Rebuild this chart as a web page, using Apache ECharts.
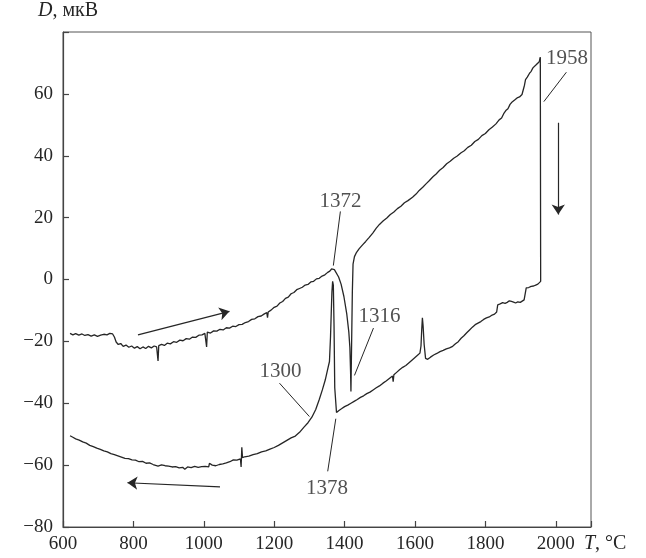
<!DOCTYPE html>
<html>
<head>
<meta charset="utf-8">
<title>ДТА</title>
<script src="https://cdn.jsdelivr.net/npm/echarts@6/dist/echarts.min.js"></script>
<style>
	html, body { margin: 0; padding: 0; background: #fff; }
	#dta { width: 646px; height: 558px; }
</style>
</head>
<body>
<div id="dta"></div>
<script>
/**********************************************/
/* 数据部分 */
/**********************************************/
// 刻度
let X_TICKS = [600, 800, 1000, 1200, 1400, 1600, 1800, 2000];
let Y_TICKS = [-80, -60, -40, -20, 0, 20, 40, 60];

// 加热曲线 [T, D]
let HEATING = [
	[620,-17.4],[628,-17.9],[636,-17.5],[645,-18.0],[654,-17.6],[662,-18.1],[671,-17.8],[680,-18.3],
	[689,-17.9],[698,-18.4],[707,-18.0],[716,-17.7],[725,-17.9],[733,-17.4],[741,-17.6],[746,-18.6],
	[751,-20.2],[757,-21.0],[764,-20.7],[771,-21.6],[779,-21.2],[787,-21.9],[795,-21.5],[803,-22.2],
	[811,-21.7],[819,-22.4],[827,-21.8],[835,-22.3],[843,-21.6],[851,-22.1],[859,-21.5],[866,-21.8],
	[868,-21.2],[870,-26.3],[872,-21.4],[880,-21.0],[888,-21.3],[896,-20.6],[905,-20.8],[914,-20.1],
	[923,-20.3],[932,-19.6],[941,-19.8],[950,-19.1],[959,-19.3],[968,-18.6],[977,-18.7],[986,-18.0],
	[995,-17.9],[1003,-17.4],[1006,-17.1],[1008,-21.8],[1010,-17.0],[1019,-17.3],[1028,-16.6],[1037,-16.7],
	[1046,-16.1],[1055,-16.3],[1064,-15.6],[1073,-15.7],[1082,-15.1],[1091,-15.2],[1100,-14.6],[1109,-14.5],
	[1118,-13.9],[1127,-13.6],[1136,-12.9],[1145,-12.7],[1154,-12.0],[1163,-11.8],[1172,-11.1],[1179,-10.7],
	[1181,-12.3],[1183,-10.5],[1191,-9.9],[1200,-9.0],[1208,-8.6],[1216,-7.6],[1224,-7.1],[1232,-6.1],
	[1240,-5.7],[1248,-4.6],[1256,-4.2],[1264,-3.3],[1272,-2.9],[1280,-2.5],[1288,-1.8],[1296,-1.6],
	[1304,-0.8],[1312,-0.6],[1320,0.2],[1328,0.4],[1336,1.1],[1344,1.5],[1352,2.3],[1358,2.7],
	[1363,3.4],[1367,3.7],[1371,3.2],[1376,2.6],[1383,0.8],[1390,-1.5],[1398,-5.5],[1406,-11.0],
	[1412,-17.0],[1415,-22.0],[1417,-30.0],[1418,-36.2],[1420,-20.0],[1422,-4.0],[1424,5.0],[1428,7.4],
	[1434,8.8],[1441,9.9],[1451,11.2],[1460,12.3],[1470,13.6],[1480,15.0],[1490,16.6],[1499,17.8],
	[1510,19.0],[1520,19.9],[1530,21.0],[1540,21.8],[1550,22.9],[1560,23.7],[1570,24.8],[1580,25.5],
	[1593,26.6],[1603,27.6],[1612,28.8],[1622,29.8],[1632,31.0],[1641,32.0],[1651,33.2],[1660,34.1],
	[1670,35.3],[1680,36.2],[1690,37.4],[1700,38.2],[1710,39.2],[1720,39.9],[1730,40.9],[1740,41.6],
	[1750,42.7],[1760,43.4],[1770,44.6],[1780,45.3],[1790,46.5],[1800,47.2],[1810,48.4],[1820,49.3],
	[1830,50.3],[1839,51.6],[1846,52.2],[1852,53.6],[1858,54.6],[1864,55.2],[1870,56.6],[1876,57.4],
	[1883,58.0],[1890,58.7],[1897,59.0],[1904,59.8],[1909,60.4],[1911,62.8],[1914,64.6],[1919,65.4],
	[1925,66.6],[1930,67.3],[1935,68.4],[1940,68.9],[1945,69.5],[1950,69.9],[1953,70.4],[1956,71.8]
];

// 冷却曲线 [T, D]
let COOLING = [
	[1957,-0.6],[1954,-1.0],[1949,-1.5],[1943,-1.8],[1937,-2.1],[1930,-2.2],[1923,-2.6],[1916,-2.7],
	[1912,-3.2],[1910,-6.6],[1905,-7.0],[1899,-7.4],[1892,-7.2],[1886,-7.6],[1880,-7.3],[1874,-7.1],
	[1868,-6.9],[1862,-7.4],[1856,-7.7],[1849,-7.5],[1842,-7.9],[1835,-8.2],[1832,-10.5],[1826,-11.2],
	[1819,-11.5],[1811,-12.1],[1803,-12.4],[1795,-12.9],[1787,-13.6],[1779,-14.1],[1771,-14.6],[1763,-15.4],
	[1755,-16.3],[1747,-17.2],[1739,-18.2],[1731,-19.0],[1723,-20.1],[1715,-20.8],[1707,-21.6],[1698,-22.1],
	[1689,-22.4],[1680,-22.9],[1671,-23.3],[1662,-23.9],[1653,-24.4],[1644,-25.1],[1636,-25.8],[1630,-25.5],
	[1626,-21.0],[1623,-15.0],[1621,-12.4],[1619,-16.5],[1617,-21.5],[1614,-23.8],[1608,-24.4],[1600,-25.2],
	[1592,-26.0],[1583,-26.9],[1574,-27.8],[1565,-28.4],[1556,-29.2],[1547,-30.1],[1540,-30.8],[1538,-33.0],
	[1536,-31.2],[1527,-32.0],[1518,-32.8],[1509,-33.5],[1499,-34.4],[1490,-35.0],[1481,-35.7],[1472,-36.4],
	[1463,-36.9],[1454,-37.6],[1445,-38.1],[1436,-38.8],[1427,-39.4],[1418,-40.0],[1409,-40.6],[1400,-41.1],
	[1391,-41.8],[1383,-42.4],[1377,-43.0],[1374,-42.6],[1372,-35.0],[1370,-15.0],[1368,-1.8],[1366,-0.6],
	[1364,-4.0],[1362,-11.0],[1360,-18.5],[1357,-26.5],[1352,-29.0],[1345,-32.5],[1337,-35.6],[1328,-38.8],
	[1318,-42.0],[1307,-44.5],[1296,-46.3],[1284,-47.8],[1272,-49.4],[1260,-50.6],[1248,-51.2],[1236,-52.0],
	[1224,-52.8],[1212,-53.6],[1200,-54.3],[1188,-54.8],[1176,-55.4],[1164,-55.7],[1152,-56.3],[1140,-56.6],
	[1128,-57.1],[1116,-57.3],[1110,-57.6],[1108,-54.2],[1106,-60.6],[1104,-58.0],[1094,-58.4],[1084,-58.3],
	[1074,-58.9],[1064,-59.3],[1054,-59.6],[1044,-59.8],[1034,-60.2],[1024,-60.0],[1016,-59.4],[1014,-60.6],
	[1004,-60.4],[994,-60.5],[984,-60.7],[974,-60.4],[964,-60.8],[954,-60.6],[946,-61.3],[940,-60.7],
	[930,-60.9],[920,-60.5],[910,-60.6],[900,-60.3],[890,-60.2],[880,-59.9],[870,-60.3],[866,-59.7],
	[856,-59.8],[846,-59.3],[836,-59.4],[826,-58.8],[816,-58.9],[806,-58.4],[796,-58.3],[786,-57.9],
	[776,-57.8],[766,-57.4],[756,-57.0],[746,-56.6],[736,-56.3],[726,-55.7],[716,-55.4],[706,-54.9],
	[696,-54.5],[686,-54.0],[676,-53.6],[666,-52.9],[656,-52.5],[646,-51.9],[636,-51.5],[628,-51.0],
	[620,-50.5]
];

// 标注文字 [T, D, 文字]
let NOTES = [
	[2032, 71.5, "1958"],
	[1388, 25.3, "1372"],
	[1499, -11.9, "1316"],
	[1218, -29.7, "1300"],
	[1350, -67.5, "1378"]
];

// 引线
let LEADERS = [
	[[2030, 67], [1966, 57.5]],
	[[1388, 22], [1368, 4.5]],
	[[1482, -15.7], [1428, -31]],
	[[1215, -33.5], [1300, -44.3]],
	[[1375, -45], [1352, -62]]
];

// 箭头（加热、冷却、下落）
let ARROWS = [
	[[813, -17.9], [1073, -10.3]],
	[[1046, -67], [783, -65.7]],
	[[2007, 50.7], [2007, 21]]
];

/**********************************************/
/* 绘图 */
/**********************************************/
let FONT = "'Liberation Serif', 'DejaVu Serif', serif";
let INK = "#262626";

function minus(v) {
	return String(v).replace("-", "\u2212");
}

function toLines(list) {
	return list.map(function (item) {
		return { coords: item };
	});
}

let chart = echarts.init(document.getElementById("dta"), null, { renderer: "canvas" });

chart.setOption({
	animation: false,
	backgroundColor: "#fff",
	grid: {
		left: 63,
		right: 55,
		top: 32,
		bottom: 31,
		show: true,
		borderColor: "#555",
		borderWidth: 1
	},
	xAxis: {
		type: "value",
		min: 600,
		max: 2100,
		interval: 200,
		axisLine: { onZero: false, lineStyle: { color: "#444", width: 1.2 } },
		axisTick: {
			inside: true,
			length: 6,
			lineStyle: { color: "#444", width: 1.2 },
			// 2100 处不画刻度
			interval: function (idx, v) {
				return X_TICKS.indexOf(Number(v)) >= 0;
			}
		},
		splitLine: { show: false },
		axisLabel: {
			margin: 8,
			color: INK,
			fontFamily: FONT,
			fontSize: 19,
			formatter: function (v) {
				return X_TICKS.indexOf(v) >= 0 ? String(v) : "";
			}
		}
	},
	yAxis: {
		type: "value",
		min: -80,
		max: 80,
		interval: 20,
		axisLine: { onZero: false, lineStyle: { color: "#444", width: 1.2 } },
		axisTick: { inside: true, length: 6, lineStyle: { color: "#444", width: 1.2 } },
		splitLine: { show: false },
		axisLabel: {
			margin: 10,
			color: INK,
			fontFamily: FONT,
			fontSize: 19,
			formatter: function (v) {
				return Y_TICKS.indexOf(v) >= 0 ? minus(v) : "";
			}
		}
	},
	graphic: [
		{
			type: "text",
			left: 38,
			top: 1,
			style: {
				text: "{i|D}, мкВ",
				fill: INK,
				font: "20px " + FONT,
				rich: { i: { fontStyle: "italic", fontFamily: FONT, fontSize: 20 } }
			}
		},
		{
			type: "text",
			left: 584,
			top: 534,
			style: {
				text: "{i|T}, °C",
				fill: INK,
				font: "20px " + FONT,
				rich: { i: { fontStyle: "italic", fontFamily: FONT, fontSize: 20 } }
			}
		}
	],
	series: [
		{
			name: "нагрев",
			type: "line",
			data: HEATING,
			showSymbol: false,
			lineStyle: { color: INK, width: 1.3 },
			silent: true
		},
		{
			name: "охлаждение",
			type: "line",
			// 与加热曲线末点相连（竖直下落）
			data: [HEATING[HEATING.length - 1]].concat(COOLING),
			showSymbol: false,
			lineStyle: { color: INK, width: 1.3 },
			silent: true
		},
		{
			type: "lines",
			coordinateSystem: "cartesian2d",
			data: toLines(LEADERS),
			lineStyle: { color: INK, width: 1, opacity: 1 },
			silent: true
		},
		{
			type: "lines",
			coordinateSystem: "cartesian2d",
			data: toLines(ARROWS),
			symbol: ["none", "arrow"],
			symbolSize: [5, 10],
			lineStyle: { color: INK, width: 1.2, opacity: 1 },
			silent: true
		},
		{
			type: "scatter",
			data: NOTES,
			symbolSize: 1,
			itemStyle: { color: "rgba(0,0,0,0)" },
			label: {
				show: true,
				position: "inside",
				color: INK,
				fontFamily: FONT,
				fontSize: 21,
				formatter: function (p) {
					return p.value[2];
				}
			},
			silent: true
		}
	]
});
</script>
</body>
</html>
